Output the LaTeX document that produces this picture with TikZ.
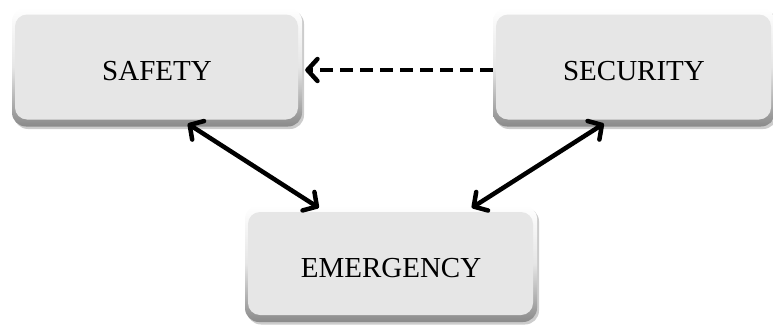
\documentclass[tikz,border=0pt]{standalone}
\usepackage{fontspec}
\setmainfont{Liberation Serif}
\usetikzlibrary{arrows.meta,calc,shadows}
\definecolor{boxface}{HTML}{E6E6E6}
\definecolor{boxedge}{HTML}{8A8A8A}
\tikzset{
  bevelbox/.style={
    rounded corners=14pt, inner sep=0pt,
    top color=white, bottom color=boxedge, middle color=boxface,
    font=\fontsize{29}{29}\selectfont, text height=27pt, text depth=0pt,
    drop shadow={shadow xshift=2pt, shadow yshift=-2.5pt, fill=gray!45, opacity=0.9},
    path picture={
      \fill[boxface, rounded corners=12pt]
        ([xshift=3pt,yshift=-7pt]path picture bounding box.north west) rectangle
        ([xshift=-4pt,yshift=7pt]path picture bounding box.south east);
    }
  },
  barbtip/.tip={Straight Barb[round,length=10pt,width=22pt,line width=4.5pt]},
  link/.style={line width=4.5pt, line cap=round, barbtip-barbtip},
  dashlink/.style={line width=4.5pt, dash pattern=on 13pt off 7pt, -barbtip}
}
\begin{document}
\begin{tikzpicture}[x=1pt,y=-1pt]
  \useasboundingbox (0,0) rectangle (773,324);
  \clip (0,0) rectangle (773,324);

  % the three boxes
  \node[bevelbox, minimum width=290pt, minimum height=119pt] (safety)    at (157,67)   {SAFETY};
  \node[bevelbox, minimum width=282pt, minimum height=119pt] (security)  at (634,67)   {SECURITY};
  \node[bevelbox, minimum width=292pt, minimum height=117pt] (emergency) at (391,263.5) {EMERGENCY};

  % connectors
  \draw[dashlink] (security.west |- 0,70) -- ($(safety.east |- 0,70)+(3,0)$);
  \draw[link] ($(safety.south west)+(176,-3)$) -- ($(emergency.north west)+(74,3)$);
  \draw[link] ($(security.south west)+(111,-3)$) -- ($(emergency.north west)+(227,3)$);
\end{tikzpicture}
\end{document}
